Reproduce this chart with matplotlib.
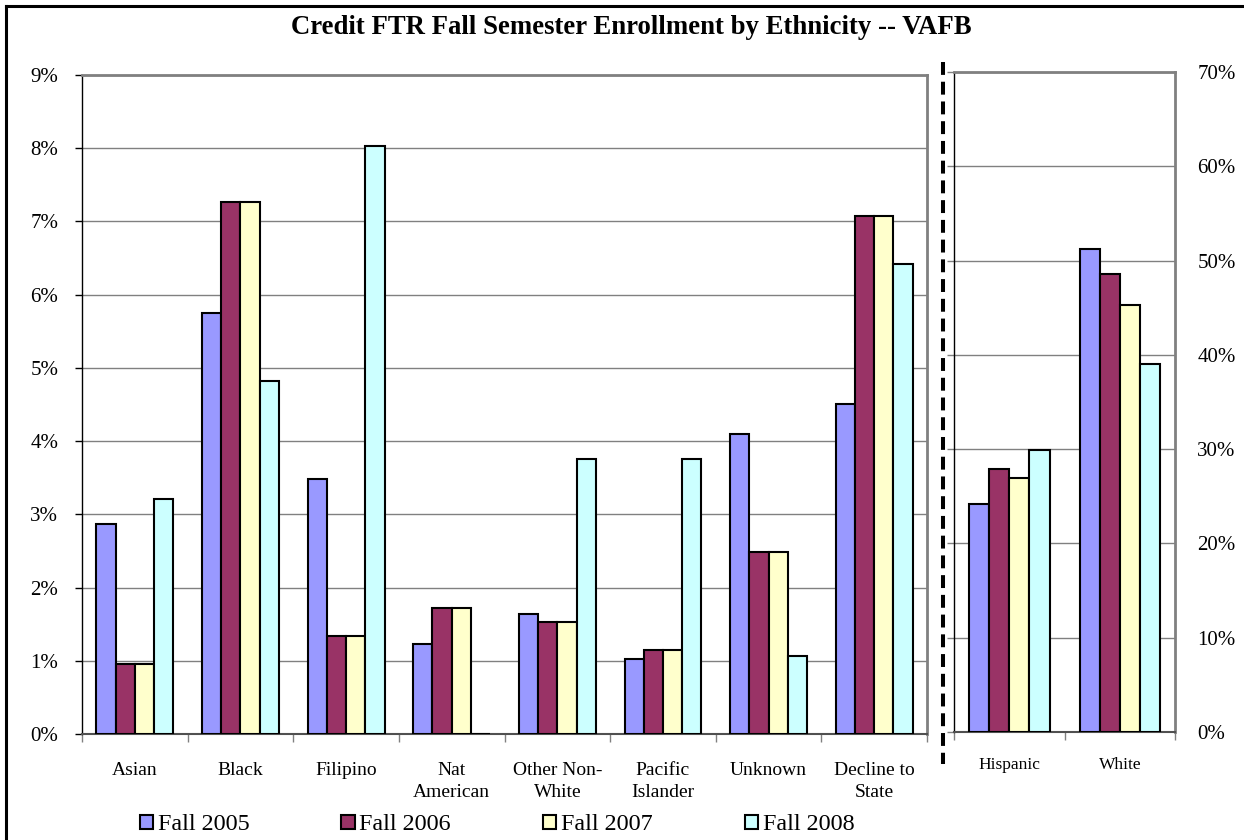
import matplotlib
matplotlib.use("Agg")
import matplotlib.pyplot as plt
from matplotlib.lines import Line2D
from matplotlib.patches import Patch
import numpy as np

plt.rcParams['font.family'] = ['Liberation Serif', 'DejaVu Serif']

# data (percent of enrollment)
groups_small = ['Asian', 'Black', 'Filipino', 'Nat\nAmerican', 'Other Non-\nWhite',
                'Pacific\nIslander', 'Unknown', 'Decline to\nState']
groups_large = ['Hispanic', 'White']
years = ['Fall 2005', 'Fall 2006', 'Fall 2007', 'Fall 2008']

fall2005_small = [2.87, 5.75, 3.48, 1.23, 1.64, 1.02, 4.10, 4.51]
fall2006_small = [0.95, 7.26, 1.34, 1.72, 1.53, 1.15, 2.49, 7.07]
fall2007_small = [0.95, 7.26, 1.34, 1.72, 1.53, 1.15, 2.49, 7.07]
fall2008_small = [3.21, 4.82, 8.03, 0.0, 3.75, 3.75, 1.07, 6.42]

fall2005_large = [24.2, 51.2]
fall2006_large = [27.9, 48.6]
fall2007_large = [26.9, 45.3]
fall2008_large = [29.9, 39.0]

colors = ['#9999FF', '#993366', '#FFFFCC', '#CCFFFF']
grid_col = '#808080'

fig = plt.figure(figsize=(12.44, 8.4), dpi=100)
ax1 = fig.add_axes([0.0659, 0.1262, 0.6793, 0.7845])
ax2 = fig.add_axes([0.7669, 0.1286, 0.1777, 0.7857])


def draw_group(ax, cats, series, top, step):
    x = np.arange(len(cats))
    w = 0.182
    for i, vals in enumerate(series):
        ax.bar(x + (i - 1.5) * w, vals, w, color=colors[i], edgecolor='black',
               linewidth=1.5, zorder=3)
    ax.set_xlim(-0.5, len(cats) - 0.5)
    ax.set_ylim(0, top)
    ax.set_yticks(np.arange(0, top + step / 2, step))
    ax.yaxis.set_major_formatter(matplotlib.ticker.FuncFormatter(lambda v, p: '%d%%' % round(v)))
    ax.grid(axis='y', color=grid_col, linewidth=1.0, zorder=0)
    ax.set_xticks(np.arange(-0.5, len(cats), 1))
    ax.set_xticklabels([])
    ax.set_xticks(x, cats, minor=True)
    for lbl in ax.get_xticklabels(minor=True):
        lbl.set_linespacing(1.4)
    ax.tick_params(axis='x', which='major', length=6, width=1, color=grid_col)
    ax.tick_params(axis='x', which='minor', length=0)
    ax.spines['top'].set_color(grid_col)
    ax.spines['top'].set_linewidth(2)
    ax.spines['right'].set_color(grid_col)
    ax.spines['right'].set_linewidth(2)
    ax.spines['left'].set_color('black')
    ax.spines['left'].set_linewidth(1)
    ax.spines['bottom'].set_color('#505050')
    ax.spines['bottom'].set_linewidth(1.5)


draw_group(ax1, groups_small, [fall2005_small, fall2006_small, fall2007_small, fall2008_small], 9, 1)
draw_group(ax2, groups_large, [fall2005_large, fall2006_large, fall2007_large, fall2008_large], 70, 10)

ax1.tick_params(axis='y', length=5, width=1, labelsize=15, pad=12)
ax1.tick_params(axis='x', which='minor', labelsize=14, pad=20)

ax2.tick_params(axis='y', left=True, right=False, labelleft=False, labelright=True,
                length=5, width=1, color=grid_col, labelsize=15, pad=11)
ax2.tick_params(axis='x', which='minor', labelsize=12.5, pad=18)

fig.text(0.5076, 1 - 28 / 840, 'Credit FTR Fall Semester Enrollment by Ethnicity -- VAFB',
         ha='center', va='center', fontsize=19.3, fontweight='bold')

# dashed divider between the two panels
fig.add_artist(Line2D([943 / 1244, 943 / 1244], [1 - 62 / 840, 1 - 764 / 840],
                      color='black', linewidth=2.9, dashes=(3.2, 1.7)))

# outer frame (left and top edges)
fig.add_artist(Line2D([6 / 1244, 6 / 1244], [0, 1 - 6 / 840], color='black', linewidth=2.2))
fig.add_artist(Line2D([6 / 1244, 1], [1 - 6 / 840, 1 - 6 / 840], color='black', linewidth=2.2))

handles = [Patch(facecolor=c, edgecolor='black', linewidth=1.5) for c in colors]
fig.legend(handles, years, ncol=4, loc='center', bbox_to_anchor=(497 / 1244, 1 - 825 / 840),
           frameon=False, fontsize=17.4, handlelength=0.55, handleheight=0.55,
           handletextpad=0.2, columnspacing=3.8, borderpad=0)

plt.savefig('out.png', dpi=100)
